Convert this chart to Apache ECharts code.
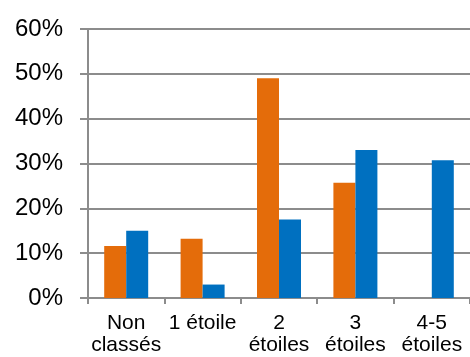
<!DOCTYPE html>
<html>
<head>
<meta charset="utf-8">
<script src="https://cdn.jsdelivr.net/npm/echarts@6/dist/echarts.min.js"></script>
<style>
  html, body { margin: 0; padding: 0; background: #ffffff; }
  #chart { width: 470px; height: 357px; }
</style>
</head>
<body>
<div id="chart"></div>
<script>
// Hotel categories and the two shares (in %) for each
const categories = ['Non\nclassés', '1 étoile', '2\nétoiles', '3\nétoiles', '4-5\nétoiles'];
const seriesOrange = [11.6, 13.2, 49.0, 25.7, null];
const seriesBlue = [15.0, 3.0, 17.5, 33.0, 30.7];
const yTicks = [0, 10, 20, 30, 40, 50, 60];

const axisGrey = '#8c8c8c';
const font = '"Liberation Sans", Arial, sans-serif';

const chart = echarts.init(document.getElementById('chart'), null, { renderer: 'canvas' });
chart.setOption({
  animation: false,
  backgroundColor: '#ffffff',
  grid: { left: 88, top: 29, width: 391.5, height: 269, containLabel: false },
  xAxis: {
    type: 'category',
    data: categories,
    boundaryGap: true,
    axisLine: { show: true, lineStyle: { color: axisGrey, width: 2 } },
    axisTick: { show: true, length: 6, lineStyle: { color: axisGrey, width: 2 } },
    axisLabel: {
      interval: 0,
      margin: 14,
      color: '#000000',
      fontFamily: font,
      fontSize: 21,
      lineHeight: 22
    },
    splitLine: { show: false }
  },
  yAxis: {
    type: 'value',
    min: yTicks[0],
    max: yTicks[yTicks.length - 1],
    interval: 10,
    axisLine: { show: true, lineStyle: { color: axisGrey, width: 2 } },
    axisTick: { show: true, length: 8, lineStyle: { color: axisGrey, width: 2 } },
    axisLabel: {
      margin: 25,
      color: '#000000',
      fontFamily: font,
      fontSize: 24,
      formatter: '{value}%'
    },
    splitLine: { show: true, lineStyle: { color: axisGrey, width: 2 } }
  },
  series: [
    {
      type: 'bar',
      data: seriesOrange,
      barWidth: 22,
      barGap: '0%',
      itemStyle: { color: '#E46C0A' }
    },
    {
      type: 'bar',
      data: seriesBlue,
      barWidth: 22,
      barGap: '0%',
      itemStyle: { color: '#0070C0' }
    }
  ]
});
</script>
</body>
</html>
